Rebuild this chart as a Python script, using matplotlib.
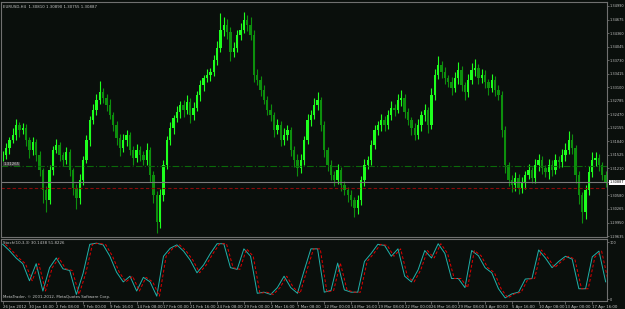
import matplotlib
matplotlib.use('Agg')
import matplotlib.pyplot as plt
import numpy as np

# EURUSD H4, one candle per two H4 bars
closes = [1.3152, 1.3168, 1.3187, 1.3199, 1.3222, 1.3210, 1.3215, 1.3187, 1.3164, 1.3182,
          1.3152, 1.3117, 1.3071, 1.3047, 1.3117, 1.3164, 1.3175, 1.3152, 1.3141, 1.3159,
          1.3117, 1.3075, 1.3052, 1.3094, 1.3141, 1.3187, 1.3234, 1.3257, 1.3280, 1.3299,
          1.3285, 1.3269, 1.3245, 1.3222, 1.3192, 1.3168, 1.3187, 1.3199, 1.3164, 1.3145,
          1.3164, 1.3152, 1.3141, 1.3164, 1.3106, 1.3059, 1.2996, 1.3059, 1.3129, 1.3187,
          1.3215, 1.3238, 1.3252, 1.3269, 1.3257, 1.3276, 1.3245, 1.3262, 1.3292, 1.3315,
          1.3331, 1.3338, 1.3345, 1.3373, 1.3401, 1.3443, 1.3455, 1.3439, 1.3392, 1.3401,
          1.3432, 1.3443, 1.3466, 1.3455, 1.3432, 1.3338, 1.3327, 1.3303, 1.3280, 1.3257,
          1.3245, 1.3210, 1.3222, 1.3187, 1.3199, 1.3210, 1.3164, 1.3141, 1.3122, 1.3141,
          1.3187, 1.3234, 1.3245, 1.3269, 1.3280, 1.3222, 1.3164, 1.3129, 1.3106, 1.3094,
          1.3117, 1.3082, 1.3071, 1.3059, 1.3047, 1.3029, 1.3047, 1.3094, 1.3129, 1.3141,
          1.3175, 1.3210, 1.3222, 1.3234, 1.3222, 1.3245, 1.3262, 1.3257, 1.3280, 1.3285,
          1.3252, 1.3234, 1.3215, 1.3199, 1.3222, 1.3245, 1.3257, 1.3222, 1.3292, 1.3338,
          1.3362, 1.3345, 1.3331, 1.3322, 1.3308, 1.3331, 1.3350, 1.3315, 1.3299, 1.3327,
          1.3350, 1.3355, 1.3331, 1.3338, 1.3322, 1.3308, 1.3327, 1.3303, 1.3292, 1.3210,
          1.3129, 1.3094, 1.3082, 1.3099, 1.3075, 1.3089, 1.3106, 1.3117, 1.3099, 1.3129,
          1.3141, 1.3122, 1.3113, 1.3129, 1.3117, 1.3141, 1.3136, 1.3152, 1.3164, 1.3187,
          1.3168, 1.3106, 1.3059, 1.3020, 1.3071, 1.3113, 1.3141, 1.3145, 1.3129, 1.3106,
          1.30887]
# wick lengths in pips above / below the body
wick_up = [10, 13, 8, 16, 14, 7, 11, 10, 8, 13, 7, 10, 5, 8, 13, 10, 14, 8, 7, 11,
           8, 5, 10, 13, 8, 11, 10, 14, 13, 25, 10, 8, 13, 7, 10, 8, 14, 11, 7, 10,
           13, 8, 10, 16, 7, 8, 10, 14, 11, 10, 13, 8, 14, 10, 11, 16, 8, 13, 10, 11,
           8, 14, 10, 13, 16, 40, 18, 13, 10, 14, 11, 16, 18, 13, 18, 10, 14, 8, 11, 10,
           13, 8, 14, 10, 16, 11, 8, 10, 13, 14, 10, 13, 11, 16, 18, 8, 10, 7, 11, 8,
           14, 8, 10, 7, 11, 8, 13, 10, 14, 8, 11, 13, 10, 14, 8, 13, 16, 10, 14, 18,
           8, 10, 7, 11, 14, 10, 13, 8, 16, 14, 20, 10, 13, 8, 11, 14, 18, 10, 8, 13,
           16, 20, 10, 14, 11, 8, 13, 10, 11, 8, 10, 7, 11, 14, 8, 13, 10, 14, 8, 13,
           14, 10, 8, 13, 11, 14, 10, 13, 16, 20, 13, 8, 10, 7, 11, 14, 18, 13, 10, 8, 10]
wick_dn = [13, 10, 14, 8, 11, 16, 10, 13, 18, 11, 14, 13, 30, 28, 10, 11, 8, 13, 14, 10,
           13, 16, 25, 14, 11, 8, 13, 10, 11, 8, 11, 14, 10, 13, 16, 18, 10, 13, 11, 16,
           10, 14, 13, 11, 16, 18, 25, 14, 13, 10, 11, 14, 8, 13, 16, 10, 18, 11, 8, 13,
           14, 10, 13, 8, 11, 10, 14, 16, 20, 11, 10, 13, 8, 14, 11, 16, 13, 14, 10, 11,
           13, 16, 10, 14, 11, 13, 14, 16, 18, 11, 13, 10, 14, 8, 11, 13, 16, 14, 11, 13,
           10, 14, 13, 16, 14, 20, 13, 11, 14, 10, 13, 10, 11, 14, 13, 10, 11, 14, 8, 13,
           14, 13, 16, 11, 10, 13, 14, 18, 10, 11, 8, 13, 14, 11, 16, 10, 13, 14, 18, 11,
           10, 13, 14, 11, 13, 16, 10, 14, 11, 16, 18, 14, 16, 13, 14, 11, 16, 10, 13, 11,
           13, 14, 11, 16, 13, 10, 14, 11, 13, 10, 14, 18, 20, 25, 16, 13, 11, 14, 13, 11, 10]
# Stochastic main line, one value every second candle
stoch_main = [96, 85, 72, 62, 32, 62, 14, 55, 72, 53, 50, 8, 45, 96, 98, 95, 75, 47, 30, 40,
              14, 38, 30, 5, 75, 89, 95, 84, 68, 46, 60, 80, 97, 97, 55, 52, 88, 75, 10, 12,
              8, 20, 40, 20, 10, 50, 88, 88, 12, 15, 63, 16, 12, 12, 66, 80, 96, 94, 75, 88,
              40, 30, 51, 85, 72, 97, 80, 36, 36, 20, 85, 76, 55, 46, 18, 2, 9, 12, 35, 36,
              86, 72, 55, 66, 75, 70, 18, 18, 74, 84, 30.14]

price_ticks = [1.34990, 1.34675, 1.34360, 1.34045, 1.33730, 1.33415, 1.33100, 1.32785, 1.32470,
               1.32155, 1.31840, 1.31525, 1.31210, 1.30895, 1.30580, 1.30265, 1.29950, 1.29635]
time_labels = ['26 Jan 2012', '30 Jan 16:00', '2 Feb 08:00', '7 Feb 00:00', '9 Feb 16:00',
               '14 Feb 08:00', '17 Feb 00:00', '21 Feb 16:00', '24 Feb 08:00', '29 Feb 00:00',
               '2 Mar 16:00', '7 Mar 08:00', '12 Mar 00:00', '14 Mar 16:00', '19 Mar 08:00',
               '22 Mar 00:00', '26 Mar 16:00', '29 Mar 08:00', '3 Apr 00:00', '5 Apr 16:00',
               '10 Apr 08:00', '13 Apr 00:00', '17 Apr 16:00']
header = 'EURUSD,H4  1.30810 1.30890 1.30755 1.30887'
stoch_label = 'Stoch(10,3,3) 30.1438 51.8226'
bid = 1.30887
level_green = 1.31265
level_red = 1.30753

W, H = 625, 309
BG = '#0a0f0c'
GRID = '#707070'
TXT = '#c8c8c8'
FS = 2.8
FS_R = 2.5

fig = plt.figure(figsize=(W / 100, H / 100), dpi=100)
fig.patch.set_facecolor(BG)


def box(x0, y0, x1, y1):
    return [x0 / W, 1 - y1 / H, (x1 - x0) / W, (y1 - y0) / H]


ax = fig.add_axes(box(1, 2, 607, 237))
sax = fig.add_axes(box(1, 239, 607, 301))

n = len(closes)
opens = [closes[0]] + closes[:-1]
for i in range(n):
    o, c = opens[i], closes[i]
    col = '#1eff1e' if c >= o else '#0d8f0d'
    lo, hi = min(o, c), max(o, c)
    ax.vlines(i, lo - wick_dn[i] * 1e-4, hi + wick_up[i] * 1e-4, color=col, lw=0.8)
    ax.bar(i, max(hi - lo, 0.00008), bottom=lo, width=0.7, color=col, lw=0)

ax.axhline(level_green, color='#0a6a0a', lw=0.8, ls=(0, (6, 2, 1, 2)))
ax.axhline(bid, color='#7a7a7a', lw=0.8)
ax.axhline(level_red, color='#8a0a0a', lw=0.8, ls=(0, (3, 2)))

xlim = (-0.5, n - 0.6)
ax.set_xlim(*xlim)
ax.set_ylim(1.29613, 1.35083)
ax.set_facecolor(BG)
ax.set_xticks([])
ax.yaxis.tick_right()
ax.set_yticks(price_ticks)
# the bid marker covers the 1.30895 label, as on the terminal
ax.set_yticklabels(['' if abs(p - bid) < 0.0002 else f'{p:.5f}' for p in price_ticks])
ax.tick_params(axis='y', colors=GRID, labelcolor=TXT, labelsize=FS_R, length=1.5, width=0.6, pad=0.5)
for s in ax.spines.values():
    s.set_color(GRID)
    s.set_linewidth(0.8)
ax.text(0.004, 0.988, header, transform=ax.transAxes, color=TXT, fontsize=FS, va='top')
ax.text(0.004, level_green, '1.31265', transform=ax.get_yaxis_transform(), color=TXT,
        fontsize=FS, va='bottom', bbox=dict(boxstyle='square,pad=0.1', fc='#3a3a3a', ec='none'))
ax.text(1.0045, bid, f'{bid:.5f}', transform=ax.get_yaxis_transform(), color='#000000',
        fontsize=FS_R, va='center', bbox=dict(boxstyle='square,pad=0.12', fc='#ffffff', ec='none'))

sx = np.arange(len(stoch_main)) * 2
sax.plot(sx, stoch_main, color='#20b2aa', lw=0.7)
sax.plot(sx + 0.8, stoch_main, color='#e00000', lw=0.7, ls=(0, (3, 2)))
sax.set_xlim(*xlim)
sax.set_ylim(-3.5, 105.3)
sax.set_facecolor(BG)
sax.yaxis.tick_right()
sax.set_yticks([0, 100])
sax.set_yticklabels(['0', '100'])
sax.tick_params(axis='y', colors=GRID, labelcolor=TXT, labelsize=FS_R, length=1.5, width=0.6, pad=0.5)
sax.set_xticks(np.arange(len(time_labels)) * 8)
sax.set_xticklabels(time_labels, ha='left')
sax.tick_params(axis='x', colors=GRID, labelcolor=TXT, labelsize=FS, length=2, width=0.6, pad=1)
for s in sax.spines.values():
    s.set_color(GRID)
    s.set_linewidth(0.8)
sax.text(0.004, 0.96, stoch_label, transform=sax.transAxes, color=TXT, fontsize=FS, va='top')
sax.text(0.004, 0.03, 'MetaTrader, \u00a9 2001-2012, MetaQuotes Software Corp.', transform=sax.transAxes,
         color=TXT, fontsize=FS, va='bottom')

fig.savefig('out.png', dpi=100, facecolor=BG)
